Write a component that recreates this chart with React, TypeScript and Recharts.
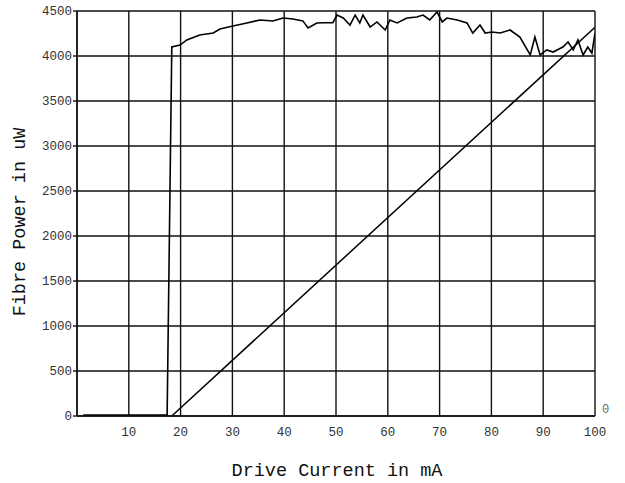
import React from "react";
import { LineChart, Line, XAxis, YAxis, CartesianGrid } from "recharts";

// measured fibre power curve (mA, uW)
const currentMA = [
  1.2, 17.4, 18.3, 19.9, 21.2, 23.7, 26.3, 27.6, 30.1, 32.8, 35.3, 37.8, 39.8, 41.7, 43.6, 44.6,
  46.3, 47.5, 49.4, 50.2, 51.4, 52.7, 53.7, 54.6, 55.2, 56.6, 57.9, 59.5, 60.4, 61.8, 63.7, 65.6,
  66.8, 68.1, 69.5, 70.5, 71.4, 73.4, 75.3, 76.4, 77.8, 78.8, 80.1, 81.7, 83.6, 85.5, 87.5, 88.4,
  89.4, 90.7, 91.9, 93.8, 94.8, 95.8, 96.7, 97.7, 98.6, 99.4, 100,
];
const powerUW = [
  10, 10, 4100, 4122, 4178, 4233, 4255, 4300, 4333, 4367, 4400, 4389, 4422, 4411, 4390, 4311,
  4367, 4370, 4370, 4455, 4422, 4344, 4455, 4367, 4455, 4322, 4378, 4289, 4400, 4367, 4422, 4433,
  4455, 4400, 4489, 4378, 4422, 4400, 4367, 4255, 4344, 4255, 4267, 4255, 4289, 4211, 4011, 4211,
  4011, 4067, 4044, 4100, 4156, 4067, 4178, 4011, 4100, 4033, 4255,
];

// straight reference line
const lineCurrent = [18.3, 100];
const linePower = [0, 4320];

const xTicks = [10, 20, 30, 40, 50, 60, 70, 80, 90, 100];
const yTicks = [0, 500, 1000, 1500, 2000, 2500, 3000, 3500, 4000, 4500];

const curveData = currentMA.map((x, i) => ({ x, y: powerUW[i] }));
const lineData = lineCurrent.map((x, i) => ({ x, y: linePower[i] }));

const titleFont = "Liberation Mono";
const tickStyle = { fontFamily: titleFont, fontSize: 12.5, fill: "#333" };

export default function App() {
  return (
    <div style={{ position: "absolute", left: 0, top: 0, width: 625, height: 483, background: "#fff" }}>
      <LineChart width={625} height={483} margin={{ top: 11, right: 30, bottom: 37, left: 0 }}>
        <CartesianGrid stroke="#111" strokeWidth={1.4} />
        <XAxis
          type="number"
          dataKey="x"
          domain={[0, 100]}
          ticks={xTicks}
          height={30}
          allowDataOverflow
          stroke="#111"
          strokeWidth={1.4}
          tickLine={false}
          tickMargin={5}
          tick={tickStyle}
          label={{
            content: () => (
              <text x={337} y={476} textAnchor="middle" fontFamily={titleFont} fontSize={18.5} fill="#111">
                Drive Current in mA
              </text>
            ),
          }}
        />
        <YAxis
          type="number"
          dataKey="y"
          domain={[0, 4500]}
          ticks={yTicks}
          width={77}
          stroke="#111"
          strokeWidth={1.4}
          tickSize={4}
          tickMargin={1}
          tick={tickStyle}
          label={{
            content: () => (
              <text
                x={20}
                y={222}
                transform="rotate(-90 20 222)"
                textAnchor="middle"
                dominantBaseline="central"
                fontFamily={titleFont}
                fontSize={18.5}
                fill="#111"
              >
                Fibre Power in uW
              </text>
            ),
          }}
        />
        <Line
          data={curveData}
          dataKey="y"
          type="linear"
          stroke="#000"
          strokeWidth={1.6}
          dot={false}
          isAnimationActive={false}
        />
        <Line
          data={lineData}
          dataKey="y"
          type="linear"
          stroke="#000"
          strokeWidth={1.5}
          dot={false}
          isAnimationActive={false}
        />
      </LineChart>
      <div
        style={{
          position: "absolute",
          left: 602,
          top: 403,
          fontFamily: titleFont,
          fontSize: 12,
          color: "#666",
        }}
      >
        0
      </div>
    </div>
  );
}
